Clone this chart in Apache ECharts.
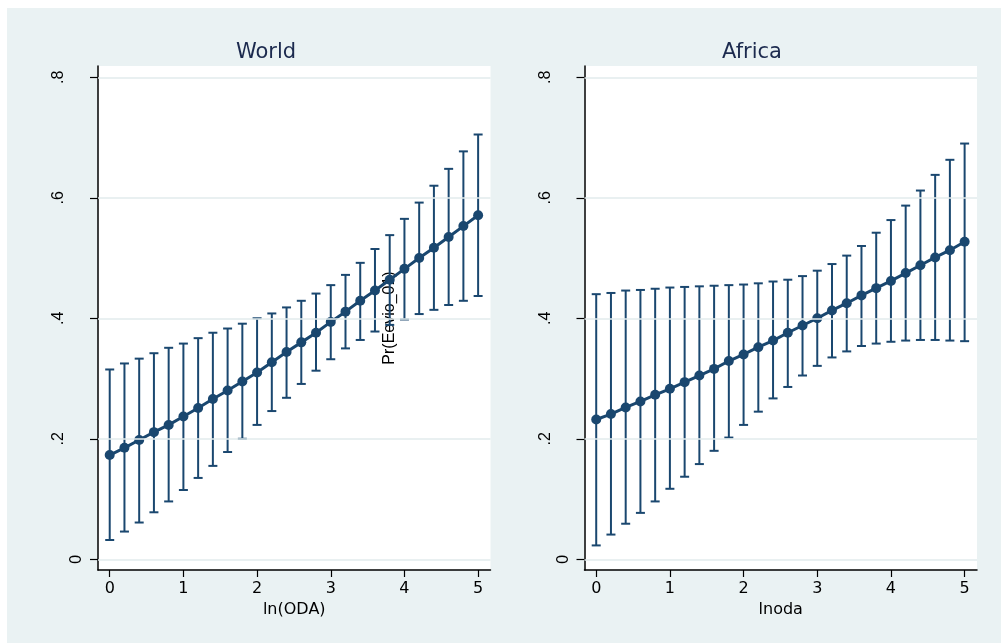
<!DOCTYPE html>
<html>
<head>
<meta charset="utf-8">
<script src="https://cdn.jsdelivr.net/npm/echarts@6/dist/echarts.min.js"></script>
<style>
html,body{margin:0;padding:0;background:#ffffff;}
#chart{width:1001px;height:643px;}
</style>
</head>
<body>
<div id="chart"></div>
<script>
// ---- data ----
const panelTitles = ['World', 'Africa'];
const xAxisTitles = ['ln(ODA)', 'lnoda'];
const yAxisTitle = 'Pr(Eevio_01)';
const xValues = [0,0.2,0.4,0.6,0.8,1,1.2,1.4,1.6,1.8,2,2.2,2.4,2.6,2.8,3,3.2,3.4,3.6,3.8,4,4.2,4.4,4.6,4.8,5];
const xTicks = [0,1,2,3,4,5];
const yTicks = [0,0.2,0.4,0.6,0.8];
const yTickLabels = ['0','.2','.4','.6','.8'];

const worldMargin = [0.173,0.185,0.198,0.211,0.223,0.237,0.251,0.266,0.280,0.295,0.310,0.327,0.344,0.360,0.376,0.394,0.411,0.429,0.446,0.464,0.482,0.500,0.517,0.535,0.553,0.571];
const worldUpper  = [0.315,0.325,0.333,0.342,0.351,0.358,0.367,0.376,0.383,0.391,0.400,0.408,0.418,0.429,0.441,0.455,0.472,0.492,0.515,0.538,0.565,0.592,0.620,0.648,0.677,0.705];
const worldLower  = [0.032,0.046,0.061,0.078,0.096,0.115,0.135,0.155,0.178,0.200,0.223,0.246,0.268,0.291,0.313,0.332,0.350,0.364,0.378,0.389,0.398,0.407,0.414,0.422,0.429,0.437];

const africaMargin = [0.232,0.241,0.252,0.262,0.273,0.283,0.294,0.305,0.316,0.329,0.340,0.352,0.363,0.376,0.388,0.400,0.413,0.425,0.438,0.450,0.462,0.475,0.488,0.501,0.513,0.527];
const africaUpper  = [0.440,0.442,0.446,0.447,0.449,0.451,0.452,0.453,0.454,0.455,0.456,0.458,0.461,0.464,0.470,0.479,0.490,0.504,0.520,0.542,0.563,0.587,0.612,0.638,0.663,0.690];
const africaLower  = [0.023,0.041,0.059,0.077,0.096,0.117,0.137,0.158,0.180,0.202,0.223,0.245,0.267,0.286,0.305,0.321,0.335,0.345,0.354,0.358,0.361,0.363,0.364,0.364,0.363,0.362];

// ---- styling ----
const NAVY = '#1a476f';
const BG = '#eaf2f3';
const GRIDLINE = '#e2ebed';
const FONT = '"Liberation Sans", Arial, sans-serif';
const HFONT = '"DejaVu Sans", "Liberation Sans", sans-serif';

const chart = echarts.init(document.getElementById('chart'), null, {renderer: 'canvas'});

const grids = [
  {left: 98, top: 66, width: 392.5, height: 504},
  {left: 584.5, top: 66, width: 392.5, height: 504}
];

function xAxisFor(i) {
  return {
    type: 'value', gridIndex: i, min: -0.159, max: 5.168,
    name: xAxisTitles[i], nameLocation: 'middle', nameGap: 28,
    nameTextStyle: {color: '#000', fontSize: 16, fontFamily: HFONT},
    axisLine: {show: true, onZero: false, lineStyle: {color: '#000', width: 1.5}},
    axisTick: {show: true, length: 7, lineStyle: {color: '#000', width: 1.2}, customValues: xTicks},
    axisLabel: {color: '#000', fontSize: 16, fontFamily: HFONT, margin: 11, customValues: xTicks,
      formatter: v => String(v)},
    splitLine: {show: false}
  };
}
function yAxisFor(i) {
  const ax = {
    type: 'value', gridIndex: i, min: -0.0178, max: 0.8187,
    axisLine: {show: true, onZero: false, lineStyle: {color: '#000', width: 1.5}},
    axisTick: {show: true, length: 8, lineStyle: {color: '#000', width: 1.2}, customValues: yTicks},
    axisLabel: {
      color: '#000', fontSize: 16, fontFamily: FONT, rotate: 90, margin: 13, customValues: yTicks,
      formatter: v => {
        const idx = yTicks.findIndex(t => Math.abs(t - v) < 1e-6);
        const lab = idx >= 0 ? yTickLabels[idx] : '';
        return v === 0 ? '{z|' + lab + '}' : '{n|' + lab + '}';
      },
      rich: {
        z: {fontSize: 16, fontFamily: FONT, color: '#000'},
        n: {fontSize: 16, fontFamily: FONT, color: '#000', padding: [0, 0, 18, 0]}
      }
    },
    splitLine: {show: false}
  };
  if (i === 0) {
    ax.name = yAxisTitle;
    ax.nameLocation = 'middle';
    ax.nameGap = -300;
    ax.nameTextStyle = {color: '#000', fontSize: 16, fontFamily: FONT};
  }
  return ax;
}

function errorBarSeries(i, lower, upper) {
  return {
    type: 'custom', xAxisIndex: i, yAxisIndex: i, z: 3, silent: true,
    data: xValues.map((x, k) => [x, lower[k], upper[k]]),
    renderItem: (params, api) => {
      const x = api.value(0);
      const lo = api.coord([x, api.value(1)]);
      const hi = api.coord([x, api.value(2)]);
      const hw = 4.5;
      const st = {stroke: NAVY, lineWidth: 2};
      return {type: 'group', children: [
        {type: 'line', shape: {x1: lo[0], y1: lo[1], x2: hi[0], y2: hi[1]}, style: st},
        {type: 'line', shape: {x1: lo[0] - hw, y1: lo[1], x2: lo[0] + hw, y2: lo[1]}, style: st},
        {type: 'line', shape: {x1: hi[0] - hw, y1: hi[1], x2: hi[0] + hw, y2: hi[1]}, style: st}
      ]};
    }
  };
}
function lineSeries(i, vals) {
  return {
    type: 'line', xAxisIndex: i, yAxisIndex: i, z: 4, silent: true,
    data: xValues.map((x, k) => [x, vals[k]]),
    symbol: 'circle', symbolSize: 10,
    itemStyle: {color: NAVY},
    lineStyle: {color: NAVY, width: 3}
  };
}
function gridLineSeries(i) {
  return {
    type: 'line', xAxisIndex: i, yAxisIndex: i, z: 1, silent: true, data: [],
    markLine: {
      silent: true, symbol: ['none', 'none'], label: {show: false},
      lineStyle: {color: GRIDLINE, width: 1.5, type: 'solid'},
      emphasis: {disabled: true},
      data: yTicks.map(t => ({yAxis: t}))
    }
  };
}

chart.setOption({
  backgroundColor: '#ffffff',
  animation: false,
  graphic: [{type: 'rect', z: -10, shape: {x: 7, y: 8, width: 994, height: 635}, style: {fill: BG}}],
  title: [
    {text: panelTitles[0], left: 266, top: 42, textAlign: 'center', padding: 0,
     textStyle: {fontSize: 21, fontWeight: 'normal', color: '#1c2a4e', fontFamily: HFONT}},
    {text: panelTitles[1], left: 752, top: 42, textAlign: 'center', padding: 0,
     textStyle: {fontSize: 21, fontWeight: 'normal', color: '#1c2a4e', fontFamily: HFONT}}
  ],
  grid: grids.map(g => Object.assign({show: true, backgroundColor: '#ffffff', borderWidth: 0, containLabel: false}, g)),
  xAxis: [xAxisFor(0), xAxisFor(1)],
  yAxis: [yAxisFor(0), yAxisFor(1)],
  series: [
    gridLineSeries(0), gridLineSeries(1),
    errorBarSeries(0, worldLower, worldUpper),
    errorBarSeries(1, africaLower, africaUpper),
    lineSeries(0, worldMargin),
    lineSeries(1, africaMargin)
  ]
});
</script>
</body>
</html>
